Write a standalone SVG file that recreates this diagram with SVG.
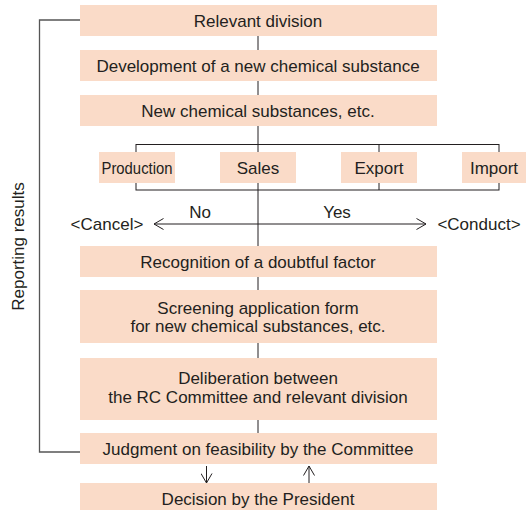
<svg xmlns="http://www.w3.org/2000/svg" width="530" height="510" viewBox="0 0 530 510">
<defs>
<style>
.box{fill:#FADBC8;}
.t{font-family:"Liberation Sans",Arial,Helvetica,sans-serif;font-size:17px;fill:#231F20;text-anchor:middle;}
.ln{stroke:#231F20;stroke-width:1;fill:none;}
.fb{stroke:#555;stroke-width:1.3;fill:none;}
</style>
<marker id="ah" viewBox="0 0 11 12" refX="10" refY="6" markerWidth="11" markerHeight="12" markerUnits="userSpaceOnUse" orient="auto-start-reverse">
<path d="M0.5,0.5 L10,6 L0.5,11.5" fill="none" stroke="#231F20" stroke-width="1"/>
</marker>
</defs>
<rect width="530" height="510" fill="#fff"/>
<g id="connectors">
<polyline class="fb" points="80,20 39.5,20 39.5,452 80,452"/>
<line class="ln" x1="258" y1="36" x2="258" y2="50"/>
<line class="ln" x1="258" y1="81" x2="258" y2="95"/>
<line class="ln" x1="258" y1="126" x2="258" y2="246"/>
<rect class="ln" x="136" y="144.5" width="363" height="45.5"/>
<line class="ln" x1="379" y1="144.5" x2="379" y2="190"/>
<line class="ln" x1="154" y1="224" x2="426" y2="224" marker-start="url(#ah)" marker-end="url(#ah)"/>
<line class="ln" x1="258" y1="277" x2="258" y2="290"/>
<line class="ln" x1="258" y1="343" x2="258" y2="358"/>
<line class="ln" x1="258" y1="420" x2="258" y2="433"/>
<line class="ln" x1="206.5" y1="466" x2="206.5" y2="483" marker-end="url(#ah)"/>
<line class="ln" x1="309" y1="483" x2="309" y2="466" marker-end="url(#ah)"/>
</g>
<g id="reporting-label"><text class="t" transform="translate(23.5,246.5) rotate(-90)">Reporting results</text></g>
<g id="n1"><rect class="box" x="80" y="5" width="357" height="31"/><text class="t" x="258" y="26.5">Relevant division</text></g>
<g id="n2"><rect class="box" x="80" y="50" width="357" height="31"/><text class="t" x="258" y="71.5">Development of a new chemical substance</text></g>
<g id="n3"><rect class="box" x="80" y="95" width="357" height="31"/><text class="t" x="258" y="116.5">New chemical substances, etc.</text></g>
<g id="production"><rect class="box" x="99" y="152" width="76" height="31"/><text class="t" x="137" y="173.5" textLength="71" lengthAdjust="spacingAndGlyphs">Production</text></g>
<g id="sales"><rect class="box" x="220" y="152" width="76" height="31"/><text class="t" x="258" y="173.5">Sales</text></g>
<g id="export"><rect class="box" x="341" y="152" width="76" height="31"/><text class="t" x="379" y="173.5">Export</text></g>
<g id="import"><rect class="box" x="462" y="152" width="64" height="31"/><text class="t" x="494" y="173.5">Import</text></g>
<g id="cancel"><text class="t" x="107" y="230">&lt;Cancel&gt;</text></g>
<g id="conduct"><text class="t" x="479" y="230">&lt;Conduct&gt;</text></g>
<g id="no"><text class="t" x="200" y="218">No</text></g>
<g id="yes"><text class="t" x="337" y="218">Yes</text></g>
<g id="n4"><rect class="box" x="80" y="246" width="357" height="31"/><text class="t" x="258" y="267.5">Recognition of a doubtful factor</text></g>
<g id="n5"><rect class="box" x="80" y="290" width="357" height="53"/><text class="t" x="258" y="313.5">Screening application form</text><text class="t" x="258" y="332">for new chemical substances, etc.</text></g>
<g id="n6"><rect class="box" x="80" y="358" width="357" height="62"/><text class="t" x="258" y="384">Deliberation between</text><text class="t" x="258" y="403">the RC Committee and relevant division</text></g>
<g id="n7"><rect class="box" x="80" y="433" width="357" height="31"/><text class="t" x="258" y="454.5">Judgment on feasibility by the Committee</text></g>
<g id="n8"><rect class="box" x="80" y="483" width="357" height="31"/><text class="t" x="258" y="504.5">Decision by the President</text></g>
</svg>
